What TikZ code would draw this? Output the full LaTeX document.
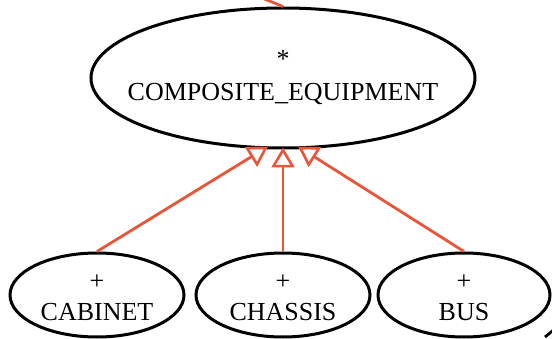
\documentclass[tikz,border=0pt]{standalone}
\usepackage{fontspec}
\setmainfont{Liberation Serif}
\usetikzlibrary{shapes.geometric,arrows.meta,calc}
\definecolor{edgered}{RGB}{232,86,58}
\tikzset{
  x=1pt, y=-1pt,
  state/.style={ellipse, draw=black, line width=3pt, inner sep=0pt,
    font=\fontsize{26}{30}\selectfont},
  gen/.style={draw=edgered, line width=2.8pt,
    -{Triangle[open, length=20pt, width=23pt, line width=2.6pt]}},
  assoc/.style={draw=edgered, line width=2.8pt}
}
% two centred lines whose size does not change the ellipse
\newcommand{\twolines}[3][2pt]{\makebox[0pt]{\begin{tabular}{@{}c@{}}#2\\[#1]#3\end{tabular}}}
\newcommand{\lowered}[1]{\raisebox{-10.5pt}[0pt][0pt]{#1}}
\begin{document}
\begin{tikzpicture}
\useasboundingbox (0,0) rectangle (552,339);
\clip (0,0) rectangle (552,339);
\node[state, minimum width=384pt, minimum height=140pt] (top) at (283,78) {\twolines[3pt]{*}{COMPOSITE\_EQUIPMENT}};
\node[state, minimum width=174pt, minimum height=84pt] (cab) at (97,295) {\lowered{\twolines[1pt]{+}{CABINET}}};
\node[state, minimum width=174pt, minimum height=84pt] (cha) at (283,295) {\lowered{\twolines[1pt]{+}{CHASSIS}}};
\node[state, minimum width=172pt, minimum height=84pt] (bus) at (464,295) {\lowered{\twolines[1pt]{+}{BUS}}};
\coordinate (hl) at ($(top.south)+(-15,-3)$);
\coordinate (hm) at ($(top.south)+(0,-2)$);
\coordinate (hr) at ($(top.south)+(15,-3)$);
\draw[gen] (cab.north) -- (hl);
\draw[gen] (cha.north) -- (hm);
\draw[gen] (bus.north) -- (hr);
% edge entering from outside the frame
\coordinate (src) at (230,-15);
\draw[assoc] (src) -- (top.north);
% fragment of a neighbouring shape at the corner
\coordinate (fa) at (545,337);
\coordinate (fb) at (556,328);
\draw[line width=2.8pt] (fa) -- (fb);
\end{tikzpicture}
\end{document}
